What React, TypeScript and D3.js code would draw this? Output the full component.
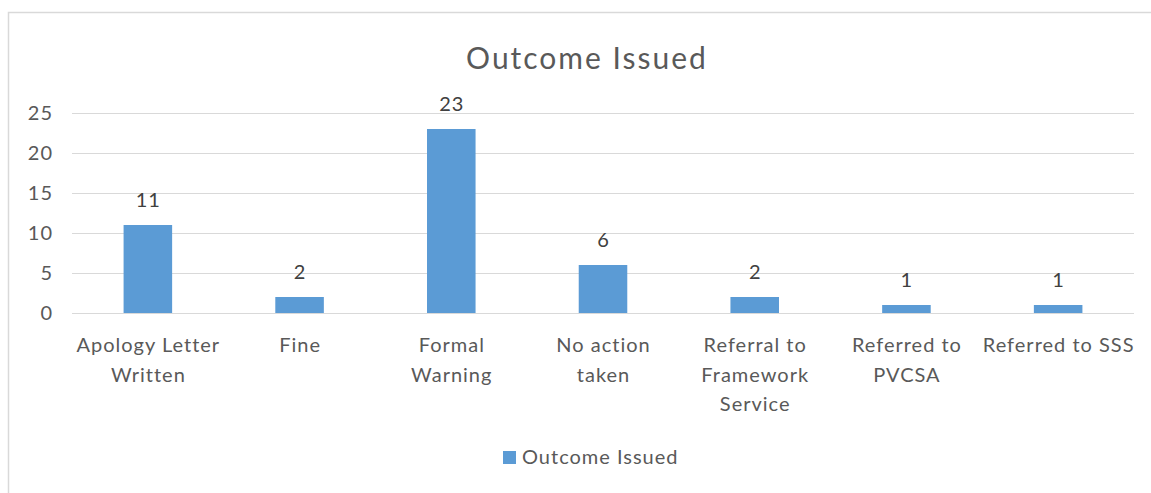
import React, { useEffect, useRef } from 'react';
import * as d3 from 'd3';

// chart data
const categories = [
  'Apology Letter\nWritten',
  'Fine',
  'Formal\nWarning',
  'No action\ntaken',
  'Referral to\nFramework\nService',
  'Referred to\nPVCSA',
  'Referred to SSS',
];
const values = [11, 2, 23, 6, 2, 1, 1];
const yTicks = [0, 5, 10, 15, 20, 25];
const seriesName = 'Outcome Issued';
const chartTitle = 'Outcome Issued';

const App: React.FC = () => {
  const svgRef = useRef<SVGSVGElement>(null);

  useEffect(() => {
    if (!svgRef.current) return;
    const width = 1151;
    const height = 493;
    const font = 'Lato, "DejaVu Sans", sans-serif';

    const svg = d3.select(svgRef.current);
    svg.selectAll('*').remove();
    svg.attr('width', width).attr('height', height);

    // chart area border (cut off at right and bottom in the source)
    svg.append('rect')
      .attr('x', 8.5)
      .attr('y', 12.5)
      .attr('width', 1200)
      .attr('height', 600)
      .attr('fill', 'white')
      .attr('stroke', '#d9d9d9')
      .attr('stroke-width', 1.5);

    const plot = { left: 72, right: 1134, top: 113, bottom: 313 };

    const x = d3.scaleBand<string>()
      .domain(categories)
      .range([plot.left, plot.right])
      .padding(0);

    const y = d3.scaleLinear()
      .domain([0, 25])
      .range([plot.bottom, plot.top]);

    // title
    svg.append('text')
      .attr('x', 587)
      .attr('y', 69)
      .attr('text-anchor', 'middle')
      .attr('fill', '#595959')
      .style('font-family', font)
      .style('font-size', '30px')
      .style('letter-spacing', '2px')
      .text(chartTitle);

    // gridlines
    svg.append('g')
      .selectAll('line')
      .data(yTicks)
      .enter()
      .append('line')
      .attr('x1', plot.left)
      .attr('x2', plot.right)
      .attr('y1', d => y(d) + 0.5)
      .attr('y2', d => y(d) + 0.5)
      .attr('stroke', '#d9d9d9')
      .attr('stroke-width', 1);

    // y axis labels
    svg.append('g')
      .selectAll('text')
      .data(yTicks)
      .enter()
      .append('text')
      .attr('x', 53)
      .attr('y', d => y(d) + 7)
      .attr('text-anchor', 'end')
      .attr('fill', '#595959')
      .style('font-family', font)
      .style('font-size', '20px')
      .style('letter-spacing', '1px')
      .text(d => String(d));

    // bars
    const barW = x.bandwidth() * 0.32;
    svg.append('g')
      .selectAll('rect')
      .data(values)
      .enter()
      .append('rect')
      .attr('x', (d, i) => (x(categories[i]) || 0) + x.bandwidth() / 2 - barW / 2)
      .attr('y', d => y(d))
      .attr('width', barW)
      .attr('height', d => y(0) - y(d))
      .attr('fill', '#5b9bd5');

    // data labels
    svg.append('g')
      .selectAll('text')
      .data(values)
      .enter()
      .append('text')
      .attr('x', (d, i) => (x(categories[i]) || 0) + x.bandwidth() / 2 + 0.5)
      .attr('y', d => y(d) - 18)
      .attr('text-anchor', 'middle')
      .attr('fill', '#404040')
      .style('font-family', font)
      .style('font-size', '20px')
      .style('letter-spacing', '1px')
      .text(d => String(d));

    // category labels
    const catG = svg.append('g');
    categories.forEach(c => {
      const t = catG.append('text')
        .attr('text-anchor', 'middle')
        .attr('fill', '#595959')
        .style('font-family', font)
        .style('font-size', '20px')
        .style('letter-spacing', '1px');
      c.split('\n').forEach((line, j) => {
        t.append('tspan')
          .attr('x', (x(c) || 0) + x.bandwidth() / 2 + 0.5)
          .attr('y', 352 + j * 29.5)
          .text(line);
      });
    });

    // legend
    svg.append('rect')
      .attr('x', 503)
      .attr('y', 451)
      .attr('width', 13)
      .attr('height', 13)
      .attr('fill', '#5b9bd5');
    svg.append('text')
      .attr('x', 522)
      .attr('y', 464)
      .attr('fill', '#595959')
      .style('font-family', font)
      .style('font-size', '20px')
      .style('letter-spacing', '1px')
      .text(seriesName);
  }, []);

  return (
    <svg ref={svgRef} style={{ position: 'absolute', left: 0, top: 0, display: 'block' }}></svg>
  );
};

export default App;
